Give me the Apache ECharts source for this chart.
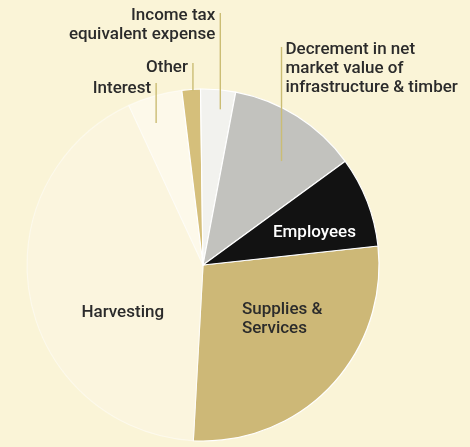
<!DOCTYPE html>
<html>
<head>
<meta charset="utf-8">
<script src="https://cdn.jsdelivr.net/npm/echarts@6/dist/echarts.min.js"></script>
<style>
  html, body { margin: 0; padding: 0; background: #faf4d7; }
  #chart { width: 470px; height: 447px; }
</style>
</head>
<body>
<div id="chart"></div>
<script>
// Expense categories, listed clockwise starting at the top edge of "Supplies & Services"
const categories = [
  'Supplies &\nServices',
  'Harvesting',
  'Interest',
  'Other',
  'Income tax\nequivalent expense',
  'Decrement in net\nmarket value of\ninfrastructure & timber',
  'Employees'
];
// Share of total expenses (%)
const shares = [27.6, 42.2, 5.0, 1.7, 3.2, 12.0, 8.3];

const sliceColors  = ['#cdb877', '#fbf5de', '#fdf9ea', '#d5bf7b', '#f2f2ee', '#c2c2be', '#121212'];
const borderColors = ['#ffffff', 'rgba(255,255,255,0.45)', 'rgba(255,255,255,0.5)', '#ffffff', '#ffffff', '#ffffff', '#ffffff'];
const textColors   = ['#2b2b2b', '#2b2b2b', '#2b2b2b', '#2b2b2b', '#2b2b2b', '#2b2b2b', '#ffffff'];

// Pie geometry
const CX = 203, CY = 265, R = 176, START = 6.2;

// Label placement: "turn" = fraction through the slice's sweep, "r" = fraction of radius.
// Inside labels sit on that point (align says which edge); callouts run a vertical
// leader from that point up to the text ("top" = leader top, "side" = text side).
const labelPlacement = [
  { inside: true, turn: 0.61, r: 0.38, align: 'left' },
  { inside: true, turn: 0.37, r: 0.53, align: 'center' },
  { inside: false, turn: 0.37, r: 0.85, top: 83, textY: 79, side: 'left' },
  { inside: false, turn: 0.59, r: 0.99, top: 63, textY: 58, side: 'left' },
  { inside: false, turn: 0.62, r: 0.89, top: 13, textY: 6, side: 'left' },
  { inside: false, turn: 0.61, r: 0.74, top: 47, textY: 40, side: 'right' },
  { inside: true, turn: 0.66, r: 0.66, align: 'center' }
];

const total = shares.reduce((a, b) => a + b, 0);
const cumulative = [];
shares.reduce((acc, v, i) => { cumulative[i] = acc; return acc + v; }, 0);

// Point inside slice i, as pixel coordinates
function slicePoint(i, turn, rf) {
  const frac = (cumulative[i] + shares[i] * turn) / total;
  const ang = (START - 360 * frac) * Math.PI / 180;
  return [CX + R * rf * Math.cos(ang), CY - R * rf * Math.sin(ang)];
}

const data = categories.map((name, i) => ({
  name: name,
  value: shares[i],
  itemStyle: { color: sliceColors[i], borderColor: borderColors[i] },
  label: { color: textColors[i] }
}));

// Vertical leader lines for the callout labels, drawn above the slices
const leaders = [];
labelPlacement.forEach((p, i) => {
  if (p.inside) return;
  const pt = slicePoint(i, p.turn, p.r);
  leaders.push({
    type: 'line',
    z: 100,
    silent: true,
    shape: { x1: pt[0], y1: pt[1], x2: pt[0], y2: p.top },
    style: { stroke: '#cbbd74', lineWidth: 1.4 }
  });
});

const chart = echarts.init(document.getElementById('chart'), null, { renderer: 'canvas' });
chart.setOption({
  backgroundColor: '#faf4d7',
  animation: false,
  graphic: { elements: leaders },
  series: [{
    type: 'pie',
    center: [CX, CY],
    radius: [0, R],
    startAngle: START,
    clockwise: true,
    sort: 'none',
    avoidLabelOverlap: false,
    data: data,
    itemStyle: { borderWidth: 1.2 },
    emphasis: { disabled: true },
    label: {
      show: true,
      position: 'outside',
      formatter: '{b}',
      fontFamily: 'Roboto',
      fontWeight: 500,
      fontSize: 17,
      lineHeight: 19,
      color: '#2b2b2b'
    },
    labelLine: { show: false },
    labelLayout: function (params) {
      const i = params.dataIndex;
      const p = labelPlacement[i];
      const pt = slicePoint(i, p.turn, p.r);
      if (p.inside) {
        return { x: pt[0], y: pt[1], align: p.align, verticalAlign: 'middle' };
      }
      const right = p.side === 'right';
      return {
        x: right ? pt[0] + 4 : pt[0] - 5,
        y: p.textY,
        align: right ? 'left' : 'right',
        verticalAlign: 'top'
      };
    }
  }]
});
</script>
</body>
</html>
